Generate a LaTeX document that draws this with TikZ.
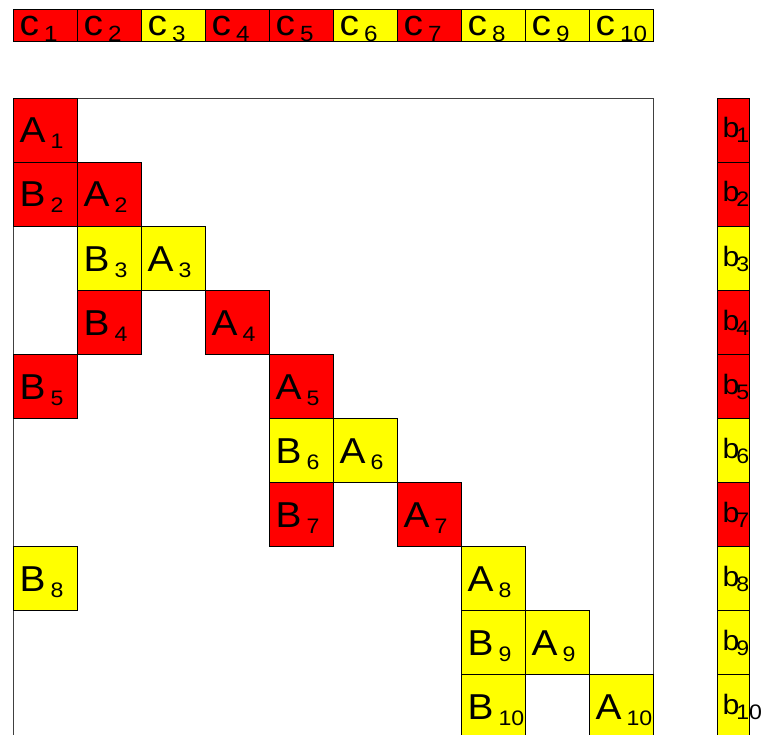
\documentclass[tikz,border=0pt]{standalone}
\usepackage{fontspec}
\setmainfont{Liberation Sans}[FakeStretch=1.08]
\newfontfamily\subfont{Liberation Sans}[FakeStretch=1.1]
\usetikzlibrary{calc}
\definecolor{cred}{RGB}{255,0,0}
\definecolor{cyel}{RGB}{255,255,0}
\tikzset{
  cellbox/.style={draw=black, line width=0.8pt, minimum width=64pt, minimum height=64pt, inner sep=0pt, outer sep=0pt, anchor=north west},
  topbox/.style={cellbox, minimum height=32pt},
  bbox/.style={cellbox, minimum width=32pt},
  lbl/.style={anchor=base west, inner sep=0pt, font=\fontsize{36}{36}\selectfont},
  blbl/.style={anchor=base west, inner sep=0pt, font=\fontsize{28}{28}\selectfont},
  frame/.style={draw=black!75, line width=0.8pt}
}
\newcommand\mysub[3]{\hspace{5pt}\raisebox{-#1}{\subfont\fontsize{#2}{#2}\selectfont #3}}
\newcommand\mysubb[1]{\kern-3pt\raisebox{-5pt}{\subfont\fontsize{21}{21}\selectfont #1}}
\begin{document}
\begin{tikzpicture}[x=1pt,y=-1pt]
\useasboundingbox (0,0) rectangle (765,735);
\clip (0,0) rectangle (765,735);
% top vector c
\foreach \j/\c in {1/cred,2/cred,3/cyel,4/cred,5/cred,6/cyel,7/cred,8/cyel,9/cyel,10/cyel}{
  \node[topbox, fill=\c] (c\j) at ({13+64*(\j-1)},9) {};
  \node[lbl] at ($(c\j.south west)+(6.5,-5)$) {c\mysub{5.5pt}{22}{\j}};
}
% matrix frame
\draw[frame] (13,98) rectangle (653,780);
% matrix entries
\foreach \i/\j/\l/\c in {1/1/A/cred,2/1/B/cred,2/2/A/cred,3/2/B/cyel,3/3/A/cyel,4/2/B/cred,4/4/A/cred,5/1/B/cred,5/5/A/cred,6/5/B/cyel,6/6/A/cyel,7/5/B/cred,7/7/A/cred,8/1/B/cyel,8/8/A/cyel,9/8/B/cyel,9/9/A/cyel,10/8/B/cyel,10/10/A/cyel}{
  \node[cellbox, fill=\c] (\l\i) at ({13+64*(\j-1)},{98+64*(\i-1)}) {};
  \node[lbl] at ($(\l\i.north west)+(6.5,45)$) {\l\mysub{6pt}{21}{\i}};
}
% right-hand vector b
\foreach \i/\c in {1/cred,2/cred,3/cyel,4/cred,5/cred,6/cyel,7/cred,8/cyel,9/cyel,10/cyel}{
  \node[bbox, fill=\c] (b\i) at (717,{98+64*(\i-1)}) {};
  \node[blbl] at ($(b\i.north west)+(5.3,40)$) {b\mysubb{\i}};
}
\end{tikzpicture}
\end{document}
